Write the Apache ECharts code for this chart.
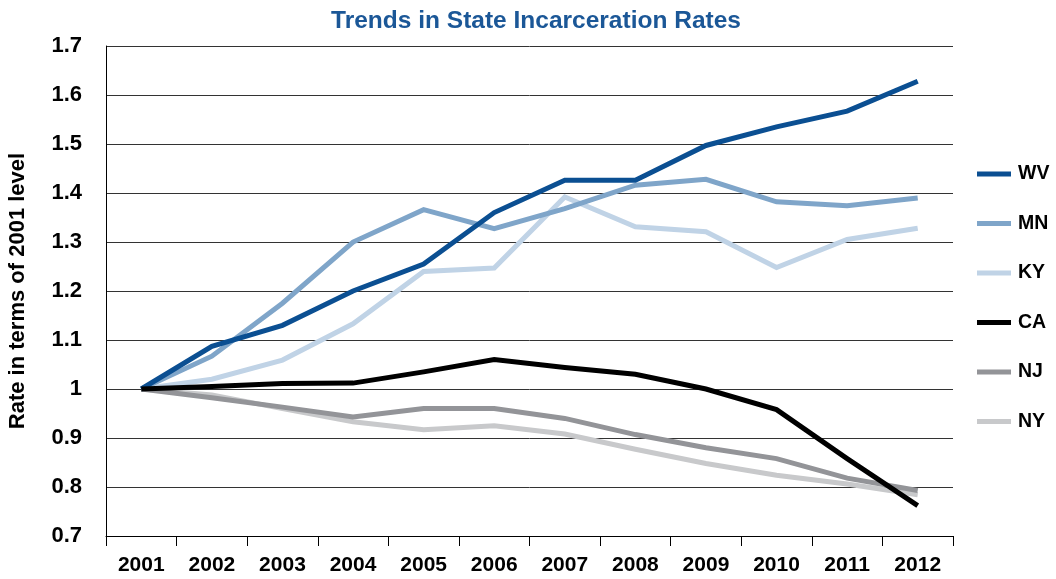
<!DOCTYPE html>
<html>
<head>
<meta charset="utf-8">
<script src="https://cdn.jsdelivr.net/npm/echarts@6/dist/echarts.min.js"></script>
<style>
  html, body { margin: 0; padding: 0; background: #fff; }
  #chart { width: 1056px; height: 579px; }
</style>
</head>
<body>
<div id="chart"></div>
<script>
var years = ['2001', '2002', '2003', '2004', '2005', '2006', '2007', '2008', '2009', '2010', '2011', '2012'];
var legendOrder = ['WV', 'MN', 'KY', 'CA', 'NJ', 'NY'];

var wv = [1.0, 1.087, 1.13, 1.2, 1.255, 1.36, 1.426, 1.426, 1.497, 1.535, 1.567, 1.628];
var mn = [1.0, 1.067, 1.175, 1.3, 1.366, 1.327, 1.368, 1.416, 1.428, 1.382, 1.374, 1.39];
var ky = [1.0, 1.02, 1.059, 1.133, 1.24, 1.247, 1.392, 1.331, 1.321, 1.248, 1.305, 1.328];
var ca = [1.0, 1.005, 1.011, 1.012, 1.035, 1.06, 1.044, 1.03, 1.0, 0.958, 0.858, 0.762];
var nj = [1.0, 0.982, 0.963, 0.943, 0.96, 0.96, 0.94, 0.907, 0.88, 0.858, 0.818, 0.793];
var ny = [1.0, 0.988, 0.96, 0.933, 0.917, 0.925, 0.908, 0.877, 0.848, 0.824, 0.806, 0.784];

var font = '"Liberation Sans Narrow", "Liberation Sans", Arial, sans-serif';

function mkLine(name, data, color) {
    return {
        name: name,
        type: 'line',
        data: data,
        showSymbol: false,
        symbol: 'none',
        lineStyle: { color: color, width: 5, cap: 'butt', join: 'miter' },
        itemStyle: { color: color }
    };
}

var chart = echarts.init(document.getElementById('chart'));
var option = {
    animation: false,
    backgroundColor: '#fff',
    title: {
        text: 'Trends in State Incarceration Rates',
        left: 531,
        textAlign: 'center',
        top: 4,
        textStyle: { color: '#1b5797', fontSize: 24.5, fontWeight: 'bold', fontFamily: font }
    },
    legend: {
        orient: 'vertical',
        left: 972,
        top: 159,
        padding: 5,
        icon: 'rect',
        itemWidth: 34,
        itemHeight: 5,
        itemGap: 29.5,
        data: legendOrder,
        textStyle: { color: '#000', fontSize: 19.5, fontWeight: 'bold', fontFamily: font, lineHeight: 20, padding: [0, 0, 0, 2] }
    },
    grid: { left: 106, right: 103, top: 46, bottom: 43, outerBoundsMode: 'none' },
    xAxis: {
        type: 'category',
        data: years,
        boundaryGap: true,
        axisLine: { lineStyle: { color: '#000', width: 1 } },
        axisTick: { show: true, length: 10, lineStyle: { color: '#000' } },
        axisLabel: { color: '#000', fontSize: 21, fontWeight: 'bold', fontFamily: font, margin: 19 },
        splitLine: { show: false }
    },
    yAxis: {
        type: 'value',
        min: 0.7,
        max: 1.7,
        interval: 0.1,
        name: 'Rate in terms of 2001 level',
        nameLocation: 'middle',
        nameRotate: 90,
        nameGap: 77,
        nameTextStyle: { color: '#000', fontSize: 22, fontWeight: 'bold', fontFamily: font },
        axisLine: { show: true, lineStyle: { color: '#000', width: 1 } },
        axisTick: { show: false },
        axisLabel: {
            color: '#000', fontSize: 22, fontWeight: 'bold', fontFamily: font, margin: 24,
            padding: [0, 0, 13, 0],
            formatter: function (v) { return String(Math.round(v * 10) / 10); }
        },
        splitLine: { show: true, lineStyle: { color: '#333', width: 1 } }
    },
    series: [
        mkLine('NY', ny, '#c8c9cb'),
        mkLine('NJ', nj, '#939498'),
        mkLine('KY', ky, '#c0d3e6'),
        mkLine('MN', mn, '#7fa5c9'),
        mkLine('WV', wv, '#0b4f92'),
        mkLine('CA', ca, '#000000')
    ]
};
chart.setOption(option);
</script>
</body>
</html>
